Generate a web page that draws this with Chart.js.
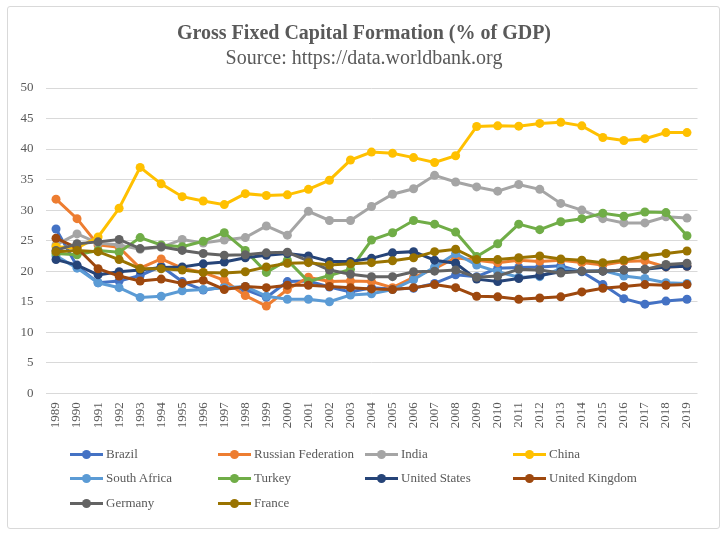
<!DOCTYPE html>
<html>
<head>
<meta charset="utf-8">
<script src="https://cdn.jsdelivr.net/npm/chart.js@4"></script>
<style>
  html, body { margin:0; padding:0; background:#fff; }
  #wrap { position:relative; width:728px; height:537px; overflow:hidden; }
  #frame { position:absolute; left:7px; top:6px; width:713px; height:523px; border:1px solid #d9d9d9; border-radius:3px; box-sizing:border-box; }
  #title { position:absolute; left:0; top:20px; width:728px; text-align:center; font-family:'Liberation Serif','Times New Roman',serif; color:#595959; font-size:20px; line-height:25px; }
  #title b { font-weight:bold; }
  canvas { position:absolute; left:0; top:0; }
  .lg { position:absolute; height:20px; display:flex; align-items:center; font-family:'Liberation Serif','Times New Roman',serif; font-size:13px; color:#595959; white-space:nowrap; }
  .mk { position:relative; width:33px; height:9px; margin-right:3px; }
  .mk .ln { position:absolute; left:0; top:3px; width:33px; height:3px; }
  .mk .dt { position:absolute; left:12px; top:0; width:9px; height:9px; border-radius:50%; }
</style>
</head>
<body>
<div id="wrap">
  <div id="frame"></div>
  <canvas id="c" width="728" height="537"></canvas>
  <div id="title"><b>Gross Fixed Capital Formation (% of GDP)</b><br>Source: https://data.worldbank.org</div>
  <div id="legend"></div>
</div>
<script>
const years = ["1989","1990","1991","1992","1993","1994","1995","1996","1997","1998","1999","2000","2001","2002","2003","2004","2005","2006","2007","2008","2009","2010","2011","2012","2013","2014","2015","2016","2017","2018","2019"];

const brazil = [26.9,20.8,18.1,18.4,19.3,20.8,18.3,16.9,17.4,17.0,15.7,18.3,18.4,17.4,16.6,17.3,17.1,17.2,18.0,19.4,19.1,20.5,20.6,20.7,20.9,19.9,17.8,15.5,14.6,15.1,15.4];
const russia = [31.8,28.6,24.3,23.9,20.5,22.0,20.5,19.8,18.5,16.0,14.3,17.0,19.0,18.3,18.4,18.3,17.3,19.0,20.4,22.2,21.8,21.4,21.8,21.6,21.8,21.4,21.0,21.6,21.7,20.7,20.8];
const india = [24.3,26.1,24.6,24.3,23.6,23.9,25.2,24.6,25.1,25.5,27.4,25.9,29.8,28.3,28.3,30.6,32.6,33.5,35.7,34.6,33.8,33.1,34.2,33.4,31.1,30.0,28.6,27.9,27.9,28.9,28.7];
const china = [24.0,23.8,25.6,30.3,37.0,34.3,32.2,31.5,30.9,32.7,32.4,32.5,33.4,34.9,38.2,39.5,39.3,38.6,37.8,38.9,43.7,43.8,43.75,44.2,44.4,43.8,41.9,41.4,41.7,42.7,42.7];
const southAfrica = [22.5,20.5,18.1,17.3,15.7,15.9,16.8,17.0,17.3,17.5,15.9,15.4,15.4,15.0,16.1,16.3,17.0,18.6,20.7,22.9,21.0,19.9,19.0,19.1,20.4,20.0,20.1,19.2,18.8,18.1,18.0];
const turkey = [22.9,22.7,23.4,23.1,25.5,24.3,24.0,24.9,26.3,23.4,19.8,21.8,18.3,19.3,20.3,25.1,26.3,28.3,27.7,26.4,22.4,24.5,27.7,26.8,28.1,28.6,29.5,29.0,29.7,29.6,25.8];
const unitedStates = [21.9,21.0,19.4,19.9,20.2,20.6,20.7,21.2,21.5,22.2,22.6,22.9,22.5,21.6,21.6,22.1,23.0,23.2,21.8,21.3,18.7,18.3,18.8,19.3,19.9,20.0,20.0,20.2,20.3,20.7,20.8];
const unitedKingdom = [25.4,23.8,20.4,19.2,18.4,18.7,18.0,18.5,17.0,17.5,17.3,17.7,17.7,17.5,17.3,17.1,17.0,17.3,17.8,17.3,15.9,15.8,15.4,15.6,15.8,16.6,17.2,17.5,17.8,17.7,17.8];
const germany = [23.4,24.5,24.8,25.2,23.7,24.0,23.4,22.9,22.6,22.7,23.0,23.1,21.7,20.2,19.5,19.1,19.1,19.9,20.0,20.2,19.0,19.2,20.3,20.2,19.7,20.0,20.0,20.2,20.3,21.1,21.3];
const france = [23.2,23.4,23.2,21.9,20.4,20.4,20.2,19.8,19.7,19.9,20.7,21.3,21.4,21.0,21.2,21.4,21.7,22.2,23.2,23.6,21.9,21.9,22.2,22.5,22.0,21.8,21.4,21.8,22.5,22.9,23.3];

const seriesNames = ["Brazil","Russian Federation","India","China","South Africa","Turkey","United States","United Kingdom","Germany","France"];
const seriesData = [brazil,russia,india,china,southAfrica,turkey,unitedStates,unitedKingdom,germany,france];
const seriesColors = ["#4472C4","#ED7D31","#A5A5A5","#FFC000","#5B9BD5","#70AD47","#264478","#9E480E","#636363","#997300"];

const datasets = seriesNames.map((n,i)=>({
  label:n, data:seriesData[i], borderColor:seriesColors[i], backgroundColor:seriesColors[i],
  pointBackgroundColor:seriesColors[i], pointBorderColor:seriesColors[i], pointBorderWidth:0,
  borderWidth:3, pointRadius:4.5, tension:0, order: seriesNames.length - i
}));

const serif = "'Liberation Serif','Times New Roman',serif";
new Chart(document.getElementById('c'), {
  type:'line',
  data:{ labels:years, datasets },
  options:{
    responsive:false, animation:false, devicePixelRatio:1,
    layout:{ padding:{ left:0, right:30.5, top:88, bottom:0 } },
    plugins:{ legend:{display:false}, title:{display:false}, tooltip:{enabled:false} },
    scales:{
      x:{
        offset:true,
        grid:{ display:false, drawTicks:false },
        border:{ display:false },
        ticks:{ minRotation:90, maxRotation:90, padding:9, color:'#595959', font:{ family:serif, size:13 }, autoSkip:false },
        afterFit:(s)=>{ s.height = 143.7; }
      },
      y:{
        min:0, max:50,
        ticks:{ stepSize:5, padding:12, color:'#595959', font:{ family:serif, size:13 } },
        grid:{ color:'#d9d9d9', lineWidth:1, drawTicks:false },
        border:{ display:false },
        afterFit:(s)=>{ s.width = 45.5; }
      }
    }
  }
});

const cols = [70,218,365,513];
const rows = [454,478,503];
const lg = document.getElementById('legend');
seriesNames.forEach((n,i)=>{
  const d = document.createElement('div');
  d.className='lg';
  d.style.left = cols[i%4]+'px';
  d.style.top = (rows[Math.floor(i/4)]-10)+'px';
  d.innerHTML = '<span class="mk"><span class="ln" style="background:'+seriesColors[i]+'"></span><span class="dt" style="background:'+seriesColors[i]+'"></span></span>'+n;
  lg.appendChild(d);
});
</script>
</body>
</html>
